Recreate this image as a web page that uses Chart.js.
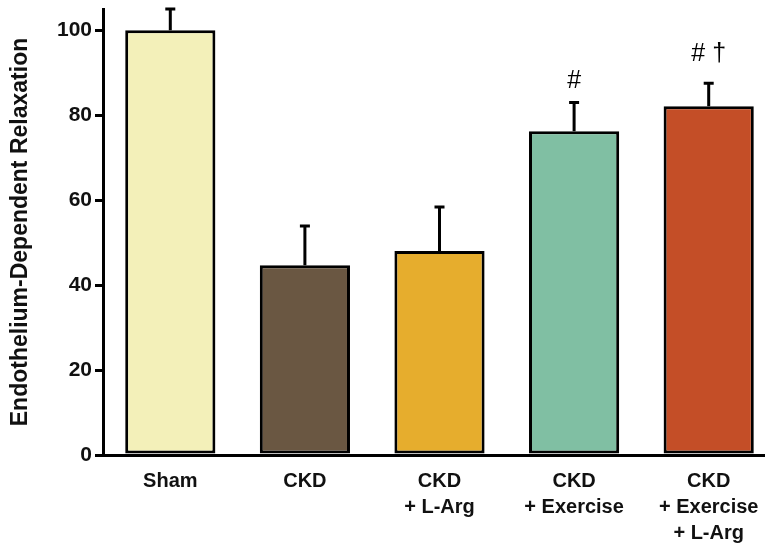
<!DOCTYPE html>
<html>
<head>
<meta charset="utf-8">
<script src="https://cdn.jsdelivr.net/npm/chart.js@4.4.0/dist/chart.umd.min.js"></script>
<style>
  html, body { margin: 0; padding: 0; background: #fff; overflow: hidden; }
  #wrap { width: 776px; height: 545px; }
</style>
</head>
<body>
<div id="wrap"><canvas id="relaxChart" width="776" height="545"></canvas></div>
<script>
// group labels (multi-line)
const groups = [
    ['Sham'],
    ['CKD'],
    ['CKD', '+ L-Arg'],
    ['CKD', '+ Exercise'],
    ['CKD', '+ Exercise', '+ L-Arg']
];
const relaxation = [100, 44.7, 48, 76.2, 82.1];
const sem = [5, 9.2, 10.4, 6.8, 5.4];
const marks = ['', '', '', '#', '# \u2020'];
const barColors = ['#f3f0b9', '#6a5742', '#e6ad2d', '#80bfa3', '#c44e27'];
const yTicks = [0, 20, 40, 60, 80, 100];

// 標記與誤差線頂端的間距 (px)
const markGap = [0, 0, 0, 9, 17];

// 誤差線 + 顯著性標記
const errorBarPlugin = {
    id: 'errorBars',
    afterDatasetsDraw(chart) {
        const ctx = chart.ctx;
        const meta = chart.getDatasetMeta(0);
        const y = chart.scales.y;
        ctx.save();
        ctx.strokeStyle = '#000';
        ctx.lineWidth = 3;
        meta.data.forEach((bar, i) => {
            const top = y.getPixelForValue(relaxation[i] + sem[i]);
            ctx.beginPath();
            ctx.moveTo(bar.x, bar.y);
            ctx.lineTo(bar.x, top);
            ctx.moveTo(bar.x - 5, top);
            ctx.lineTo(bar.x + 5, top);
            ctx.stroke();
            if (marks[i]) {
                ctx.fillStyle = '#000';
                ctx.font = '25px "Liberation Sans", Arial, sans-serif';
                ctx.textAlign = 'center';
                ctx.textBaseline = 'bottom';
                ctx.fillText(marks[i], bar.x, top - markGap[i]);
            }
        });
        ctx.restore();
    }
};

new Chart(document.getElementById('relaxChart'), {
    type: 'bar',
    data: {
        labels: groups,
        datasets: [{
            data: relaxation,
            backgroundColor: barColors,
            borderColor: '#000',
            borderWidth: 3,
            borderSkipped: false,
            categoryPercentage: 1,
            barPercentage: 0.67
        }]
    },
    options: {
        responsive: false,
        animation: false,
        layout: { padding: { top: 9, right: 0, bottom: 0, left: 0 } },
        plugins: {
            legend: { display: false },
            tooltip: { enabled: false }
        },
        scales: {
            x: {
                grid: { display: false },
                border: { display: true, color: '#000', width: 3 },
                ticks: {
                    color: '#111',
                    font: { family: '"Liberation Sans", Arial, sans-serif', size: 20, weight: 'bold', lineHeight: 1.3 },
                    padding: 5,
                    maxRotation: 0,
                    autoSkip: false
                },
                afterFit(scale) { scale.height = 90; }
            },
            y: {
                min: 0,
                max: 105,
                afterBuildTicks(scale) {
                    scale.ticks = yTicks.map(v => ({ value: v }));
                },
                grid: {
                    drawOnChartArea: false,
                    color: '#000',
                    lineWidth: 3,
                    tickLength: 8
                },
                border: { display: true, color: '#000', width: 3 },
                ticks: {
                    color: '#111',
                    font: { family: '"Liberation Sans", Arial, sans-serif', size: 21, weight: 'bold' },
                    padding: 3
                },
                title: {
                    display: true,
                    text: 'Endothelium-Dependent Relaxation',
                    color: '#111',
                    font: { family: '"Liberation Sans", Arial, sans-serif', size: 23, weight: 'bold' },
                    padding: { top: 7, bottom: 0 }
                },
                afterFit(scale) {
                    scale.width = 103;
                    scale.paddingTop = 0;
                }
            }
        }
    },
    plugins: [errorBarPlugin]
});
</script>
</body>
</html>
